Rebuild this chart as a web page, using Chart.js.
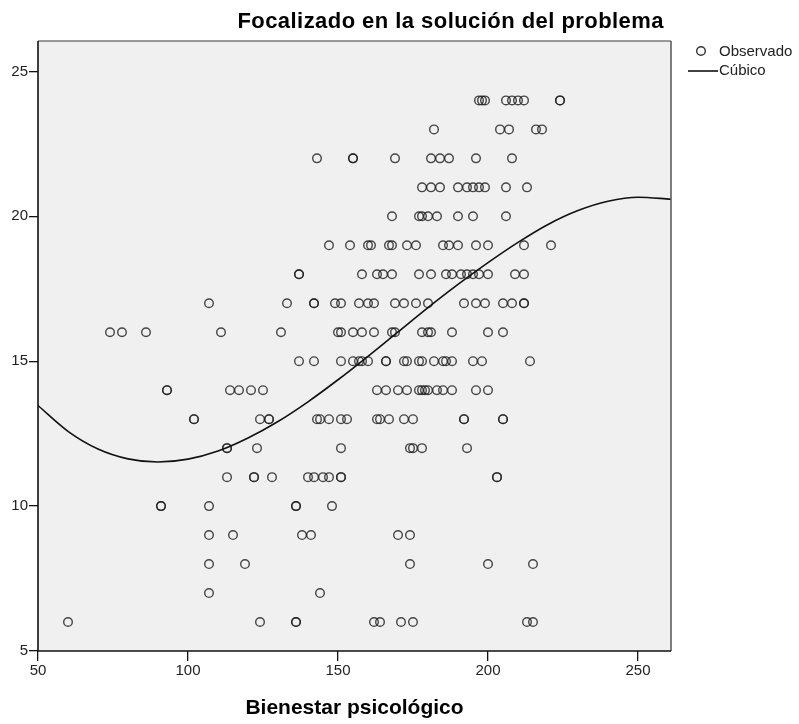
<!DOCTYPE html>
<html>
<head>
<meta charset="utf-8">
<script src="https://cdn.jsdelivr.net/npm/chart.js@4.4.1/dist/chart.umd.min.js"></script>
<style>
html,body{margin:0;padding:0;background:#fff;}
#wrap{position:relative;width:799px;height:724px;}
</style>
</head>
<body>
<div id="wrap"><canvas id="c" width="799" height="724"></canvas></div>
<script>
// ---- text ----
const chartTitle = 'Focalizado en la solución del problema';
const xAxisTitle = 'Bienestar psicológico';
const seriesNames = ['Observado', 'Cúbico'];

// ---- ticks ----
const xTicks = [50, 100, 150, 200, 250];
const yTicks = [5, 10, 15, 20, 25];

// ---- observed points: Y level and the X values observed at that level ----
const yLevels = [24, 23, 22, 21, 20, 19, 18, 17, 16, 15, 14, 13, 12, 11, 10, 9, 8, 7, 6];
const xAt24 = [197, 198, 199, 206, 208, 210, 212, 224, 224];
const xAt23 = [182, 204, 207, 216, 218];
const xAt22 = [143, 155, 155, 169, 181, 184, 187, 196, 208];
const xAt21 = [178, 181, 184, 190, 193, 195, 197, 199, 206, 213];
const xAt20 = [168, 177, 178, 180, 183, 190, 195, 206];
const xAt19 = [147, 154, 160, 161, 167, 168, 173, 176, 185, 187, 190, 196, 200, 212, 221];
const xAt18 = [137, 137, 158, 163, 165, 168, 177, 181, 186, 188, 191, 193, 195, 197, 200, 209, 212];
const xAt17 = [107, 133, 142, 142, 149, 151, 157, 160, 162, 169, 172, 176, 180, 192, 196, 199, 205, 208, 212, 212];
const xAt16 = [74, 78, 86, 111, 131, 150, 151, 155, 158, 162, 168, 169, 178, 180, 181, 188, 200, 205];
const xAt15 = [137, 142, 151, 155, 157, 158, 160, 166, 166, 172, 173, 177, 178, 182, 185, 186, 188, 195, 198, 214];
const xAt14 = [93, 93, 114, 117, 121, 125, 163, 166, 170, 173, 177, 178, 179, 180, 183, 185, 188, 196, 200];
const xAt13 = [102, 102, 124, 127, 127, 143, 144, 147, 151, 153, 163, 164, 167, 172, 175, 192, 192, 205, 205];
const xAt12 = [113, 113, 123, 151, 174, 175, 178, 193];
const xAt11 = [113, 122, 122, 128, 140, 142, 145, 147, 151, 151, 203, 203];
const xAt10 = [91, 91, 107, 136, 136, 148];
const xAt9  = [107, 115, 138, 141, 170, 174];
const xAt8  = [107, 119, 174, 200, 215];
const xAt7  = [107, 144];
const xAt6  = [60, 124, 136, 136, 162, 164, 171, 175, 213, 215];
const xByLevel = [xAt24, xAt23, xAt22, xAt21, xAt20, xAt19, xAt18, xAt17, xAt16, xAt15,
                  xAt14, xAt13, xAt12, xAt11, xAt10, xAt9, xAt8, xAt7, xAt6];

// ---- cubic fit line ----
const curveX = [50, 60, 70, 80, 90, 100, 110, 120, 130, 140, 150, 160, 170, 180, 190, 200, 210, 220, 230, 240, 250, 261];
const curveY = [13.47, 12.58, 11.97, 11.63, 11.52, 11.62, 11.90, 12.35, 12.92, 13.60, 14.36, 15.17, 16.01, 16.85, 17.65, 18.40, 19.10, 19.72, 20.20, 20.52, 20.66, 20.59];

// build datasets
const observed = [];
yLevels.forEach((y, i) => xByLevel[i].forEach(x => observed.push({x: x, y: y})));
const curve = curveX.map((x, i) => ({x: x, y: curveY[i]}));

const FONT = 'Arial, "Liberation Sans", sans-serif';

const decor = {
  id: 'decor',
  beforeDraw(chart) {
    const {ctx, chartArea: a} = chart;
    ctx.save();
    ctx.fillStyle = '#ffffff';
    ctx.fillRect(0, 0, chart.width, chart.height);
    ctx.fillStyle = '#f0f0f0';
    ctx.fillRect(a.left, a.top, a.right - a.left, a.bottom - a.top);
    ctx.restore();
  },
  afterDraw(chart) {
    const {ctx, chartArea: a} = chart;
    ctx.save();
    // frame
    ctx.lineWidth = 1.5;
    ctx.strokeStyle = '#7a7a7a';
    ctx.beginPath(); ctx.moveTo(a.left, a.top); ctx.lineTo(a.right, a.top); ctx.stroke();
    ctx.strokeStyle = '#555';
    ctx.beginPath(); ctx.moveTo(a.right, a.top); ctx.lineTo(a.right, a.bottom); ctx.stroke();
    ctx.strokeStyle = '#111';
    ctx.lineWidth = 1.6;
    ctx.beginPath(); ctx.moveTo(a.left, a.top); ctx.lineTo(a.left, a.bottom); ctx.lineTo(a.right, a.bottom); ctx.stroke();

    // title
    ctx.fillStyle = '#000';
    ctx.font = 'bold 22px ' + FONT;
    if ('letterSpacing' in ctx) ctx.letterSpacing = '0.45px';
    ctx.textAlign = 'right';
    ctx.textBaseline = 'alphabetic';
    ctx.fillText(chartTitle, 664, 28);
    if ('letterSpacing' in ctx) ctx.letterSpacing = '0px';

    // x axis title
    ctx.font = 'bold 21px ' + FONT;
    ctx.textAlign = 'center';
    ctx.fillText(xAxisTitle, (a.left + a.right) / 2, 714);

    // legend
    ctx.font = '15px ' + FONT;
    ctx.textAlign = 'left';
    ctx.textBaseline = 'middle';
    ctx.fillStyle = '#222';
    ctx.fillText(seriesNames[0], 719, 52);
    ctx.fillText(seriesNames[1], 719, 71);
    ctx.strokeStyle = '#333';
    ctx.lineWidth = 1.4;
    ctx.beginPath(); ctx.arc(701, 51, 4.3, 0, Math.PI * 2); ctx.stroke();
    ctx.strokeStyle = '#111';
    ctx.lineWidth = 1.6;
    ctx.beginPath(); ctx.moveTo(688, 71); ctx.lineTo(718, 71); ctx.stroke();
    ctx.restore();
  }
};

new Chart(document.getElementById('c'), {
  type: 'scatter',
  data: {
    datasets: [
      {
        label: seriesNames[0],
        data: observed,
        showLine: false,
        pointStyle: 'circle',
        pointRadius: 4.3,
        pointBorderWidth: 1.4,
        pointBackgroundColor: 'rgba(0,0,0,0)',
        pointBorderColor: 'rgba(30,30,30,0.82)',
        order: 2
      },
      {
        label: seriesNames[1],
        data: curve,
        showLine: true,
        pointRadius: 0,
        borderColor: '#111',
        borderWidth: 1.6,
        cubicInterpolationMode: 'monotone',
        fill: false,
        order: 1
      }
    ]
  },
  options: {
    responsive: false,
    animation: false,
    devicePixelRatio: 1,
    events: [],
    layout: {padding: {top: 41, right: 128, left: 0, bottom: 0}},
    plugins: {legend: {display: false}, title: {display: false}, tooltip: {enabled: false}},
    scales: {
      x: {
        type: 'linear',
        min: 50, max: 261,
        afterBuildTicks: s => { s.ticks = xTicks.map(v => ({value: v})); },
        afterFit: s => { s.height = 73; },
        ticks: {font: {size: 15, family: FONT}, color: '#222', padding: 1, maxRotation: 0, autoSkip: false},
        grid: {drawOnChartArea: false, drawTicks: true, tickLength: 10, color: '#111', lineWidth: 1.3},
        border: {display: false}
      },
      y: {
        type: 'linear',
        min: 5, max: 26.05,
        afterBuildTicks: s => { s.ticks = yTicks.map(v => ({value: v})); },
        afterFit: s => { s.width = 38; },
        ticks: {font: {size: 15, family: FONT}, color: '#222', padding: 1, autoSkip: false},
        grid: {drawOnChartArea: false, drawTicks: true, tickLength: 9, color: '#111', lineWidth: 1.3},
        border: {display: false}
      }
    }
  },
  plugins: [decor]
});
</script>
</body>
</html>
